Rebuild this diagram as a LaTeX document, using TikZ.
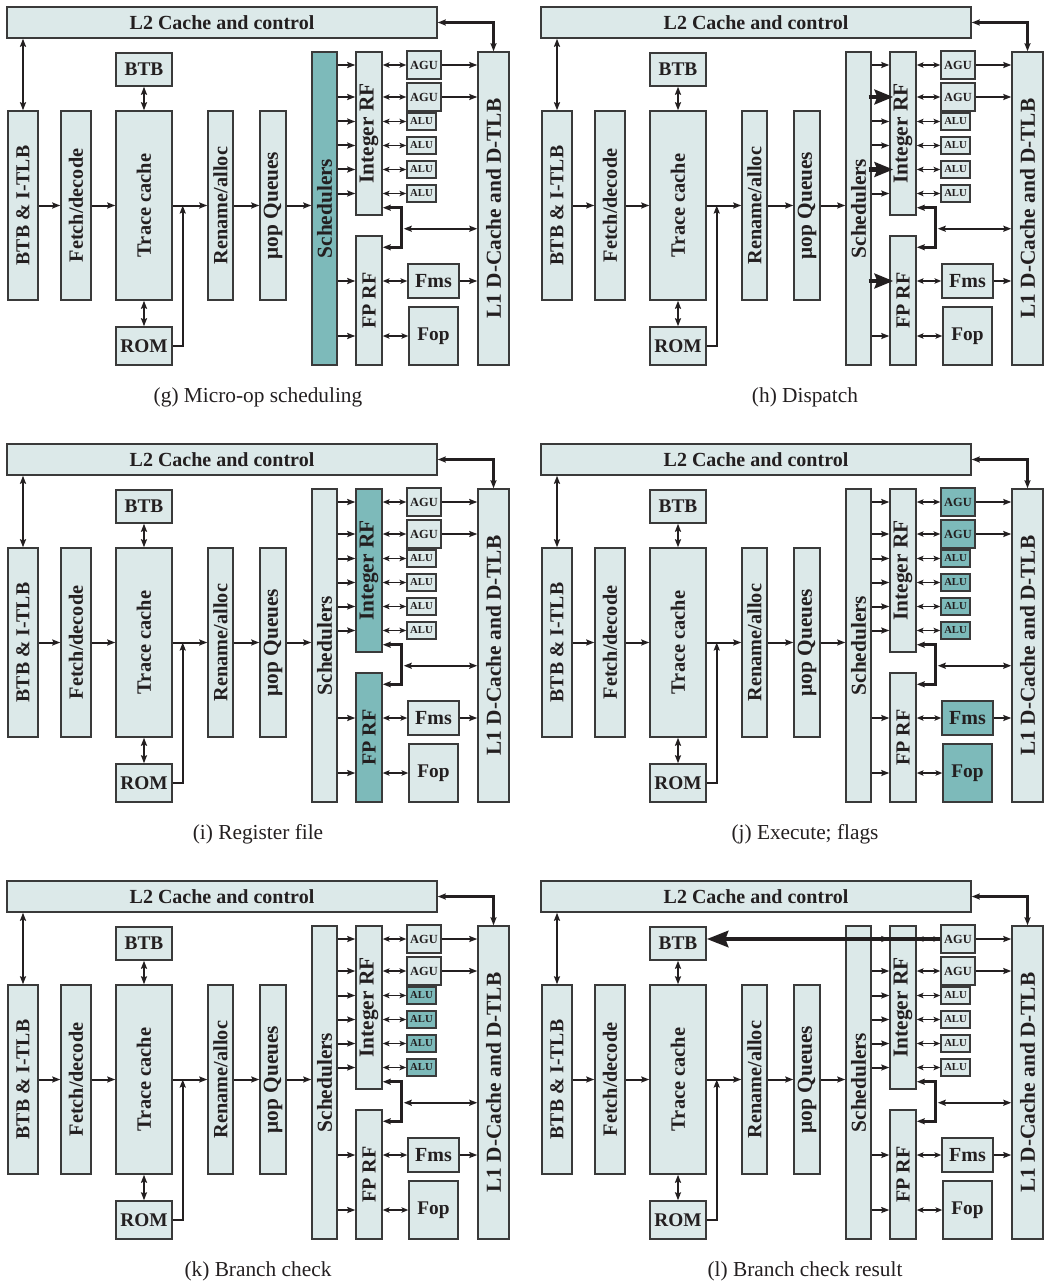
\documentclass[tikz,border=0pt]{standalone}
\usepackage{fontspec}
\setmainfont{Liberation Serif}
\usepackage{graphicx}
\usetikzlibrary{arrows.meta,calc}
\definecolor{boxfill}{HTML}{DCE9E9}
\definecolor{hi}{HTML}{7DBABA}
\definecolor{ink}{HTML}{231F20}
\definecolor{edge}{HTML}{3A3A3A}
\newcommand\fsz[1]{\fontsize{#1}{#1}\selectfont}
\tikzset{
  unitbox/.style={draw=edge, line width=1.1pt, fill=boxfill, inner sep=0pt, font=\bfseries, text=ink},
  arr/.style={draw=ink, line width=1.5pt, -{Stealth[length=6pt,width=4.5pt,inset=1pt]}},
  darr/.style={draw=ink, line width=1.5pt, {Stealth[length=6pt,width=4.5pt,inset=1pt]}-{Stealth[length=6pt,width=4.5pt,inset=1pt]}},
  sdarr/.style={draw=ink, line width=1.2pt, {Stealth[length=5pt,width=4pt,inset=1pt]}-{Stealth[length=5pt,width=4pt,inset=1pt]}},
  bigarr/.style={draw=ink, line width=3.6pt, -{Stealth[length=14pt,width=11pt,inset=2pt]}},
  captext/.style={font=\fsz{16}, text=ink, inner sep=0pt},
  hl-sched/.style={}, hl-rf/.style={}, hl-agu/.style={}, hl-alu/.style={}, hl-fp/.style={},
}
% box: name, x1, y1, x2, y2, extra style, text
\newcommand\bx[7]{%
  \pgfmathsetmacro\bxw{(#4-#2)*0.75}%
  \pgfmathsetmacro\bxh{(#5-#3)*0.75}%
  \node[unitbox,#6,minimum width=\bxw pt,minimum height=\bxh pt] (\pp-#1) at ({(#2+#4)/2},{(#3+#5)/2}) {#7};}
% panel: prefix, xoff, yoff, caption, caption x, highlight options
\newcommand\Panel[6]{%
\def\pp{#1}%
\begin{scope}[shift={(#2,#3)},#6]
\bx{l2}{7}{7}{437}{38}{}{\fsz{15}L2 Cache and control}
\bx{btb}{116}{53}{172}{86}{}{\fsz{14.5}BTB}
\bx{itlb}{8}{111}{38}{300}{}{\rotatebox{90}{\fsz{14.8}BTB \& I-TLB}}
\bx{fetch}{61}{111}{91}{300}{}{\rotatebox{90}{\fsz{15.2}Fetch/decode}}
\bx{trace}{116}{111}{172}{300}{}{\rotatebox{90}{\fsz{15.3}Trace cache}}
\bx{rename}{208}{111}{233}{300}{}{\rotatebox{90}{\fsz{15.2}Rename/alloc}}
\bx{queue}{260}{111}{286}{300}{}{\rotatebox{90}{\fsz{16}μop Queues}}
\bx{rom}{116}{327}{172}{365}{}{\fsz{14.5}ROM}
\bx{sched}{312}{52}{337}{365}{hl-sched}{\rotatebox{90}{\fsz{16}Schedulers}}
\bx{intrf}{356}{52}{382}{215}{hl-rf}{\rotatebox{90}{\fsz{16}Integer RF}}
\bx{fprf}{356}{236}{382}{365}{hl-rf}{\rotatebox{90}{\fsz{15}FP RF}}
\bx{agu1}{407}{51}{441}{79}{hl-agu}{\fsz{9.3}AGU}
\bx{agu2}{407}{83}{441}{111}{hl-agu}{\fsz{9.3}AGU}
\bx{alu1}{407}{113}{436}{130}{hl-alu}{\fsz{8}ALU}
\bx{alu2}{407}{137}{436}{154}{hl-alu}{\fsz{8}ALU}
\bx{alu3}{407}{161}{436}{178}{hl-alu}{\fsz{8}ALU}
\bx{alu4}{407}{185}{436}{202}{hl-alu}{\fsz{8}ALU}
\bx{fms}{408}{264}{459}{298}{hl-fp}{\fsz{15}Fms}
\bx{fop}{409}{307}{458}{365}{hl-fp}{\fsz{14.5}Fop}
\bx{l1}{478}{52}{509}{365}{}{\rotatebox{90}{\fsz{16}L1 D-Cache and D-TLB}}
\draw[arr] (\pp-itlb.east) -- (\pp-fetch.west);
\draw[arr] (\pp-fetch.east) -- (\pp-trace.west);
\draw[arr] (\pp-trace.east) -- (\pp-rename.west);
\draw[arr] (\pp-rename.east) -- (\pp-queue.west);
\draw[arr] (\pp-queue.east) -- (\pp-queue.east -| \pp-sched.west);
\draw[arr] (\pp-rom.east) -| ($(\pp-trace.east)+(10,0)$);
\draw[darr, line width=2pt] (\pp-itlb.north) -- (\pp-itlb.north |- \pp-l2.south);
\draw[darr, line width=2pt] (\pp-l2.east) -| (\pp-l1.north);
\draw[darr] (\pp-btb.south) -- (\pp-trace.north);
\draw[darr] (\pp-trace.south) -- (\pp-rom.north);
\foreach \u in {agu1,agu2,alu1,alu2,alu3,alu4} {
  \draw[arr] (\pp-sched.east |- \pp-\u.west) -- (\pp-intrf.west |- \pp-\u.west);
  \draw[sdarr] (\pp-intrf.east |- \pp-\u.west) -- (\pp-\u.west);
}
\foreach \u in {fms,fop} {
  \draw[arr] (\pp-sched.east |- \pp-\u.west) -- (\pp-fprf.west |- \pp-\u.west);
  \draw[sdarr] (\pp-fprf.east |- \pp-\u.west) -- (\pp-\u.west);
}
\draw[arr] (\pp-agu1.east) -- (\pp-agu1.east -| \pp-l1.west);
\draw[arr] (\pp-agu2.east) -- (\pp-agu2.east -| \pp-l1.west);
\draw[arr] (\pp-fms.east) -- (\pp-fms.east -| \pp-l1.west);
\draw[darr, line width=2pt] ($(\pp-intrf.south east)+(0,-8)$) -| ($(\pp-fprf.north east)+(19,12)$) -- ($(\pp-fprf.north east)+(0,12)$);
\coordinate (\pp-br) at ($(\pp-intrf.south east)+(21,13)$);
\draw[darr] (\pp-br) -- (\pp-br -| \pp-l1.west);
\node[captext] (\pp-cap) at (#5,397) {#4};
\end{scope}}

\begin{document}
\begin{tikzpicture}[x=0.75pt,y=-0.75pt]
\useasboundingbox (0,0) rectangle (1045,1284);
\Panel{g}{0}{0}{(g) Micro-op scheduling}{258}{hl-sched/.style={fill=hi}}
\Panel{h}{534}{0}{(h) Dispatch}{271}{}
\Panel{i}{0}{437}{(i) Register file}{258}{hl-rf/.style={fill=hi}}
\Panel{j}{534}{437}{(j) Execute; flags}{271}{hl-agu/.style={fill=hi},hl-alu/.style={fill=hi},hl-fp/.style={fill=hi}}
\Panel{k}{0}{874}{(k) Branch check}{258}{hl-alu/.style={fill=hi}}
\Panel{l}{534}{874}{(l) Branch check result}{271}{}
% dispatch: thick arrows
\draw[bigarr] ($(h-sched.east |- h-agu2.west)+(-3,0)$) -- ($(h-intrf.west |- h-agu2.west)+(4,0)$);
\draw[bigarr] ($(h-sched.east |- h-alu3.west)+(-3,0)$) -- ($(h-intrf.west |- h-alu3.west)+(4,0)$);
\draw[bigarr] ($(h-sched.east |- h-fms.west)+(-3,0)$) -- ($(h-fprf.west |- h-fms.west)+(4,0)$);
% branch check result: thick arrow to BTB
\draw[bigarr, -{Stealth[length=16pt,width=12pt,inset=2pt]}] (l-agu1.west) -- (l-agu1.west -| l-btb.east);
\end{tikzpicture}
\end{document}
